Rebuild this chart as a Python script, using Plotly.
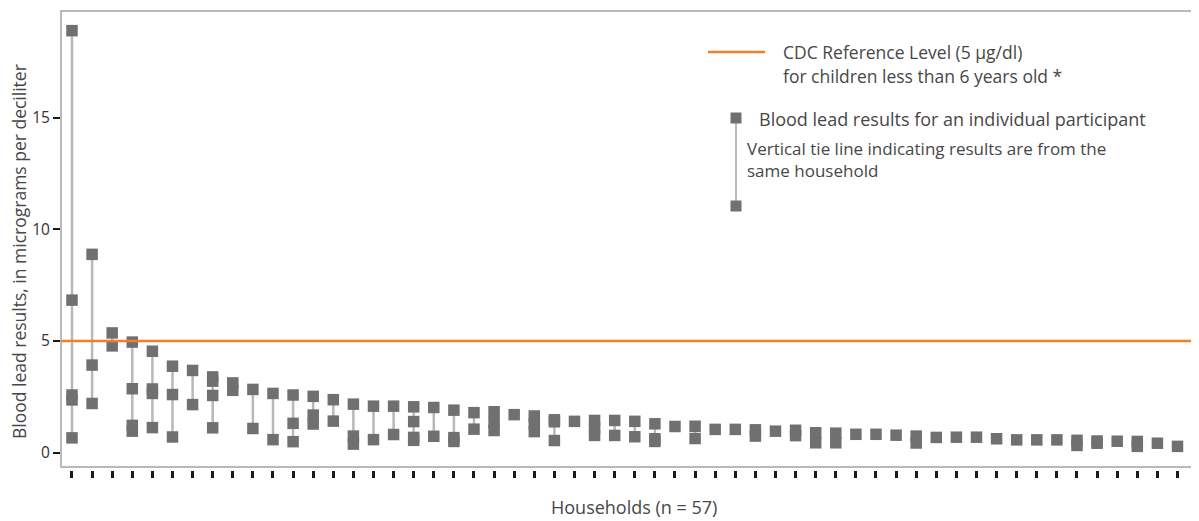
import plotly.graph_objects as go

# ---------------- data ----------------
households = list(range(1, 58))
blood_lead = [
    [18.9, 6.83, 2.58, 2.36, 0.66],
    [8.88, 3.92, 2.2],
    [5.36, 4.78],
    [4.95, 2.86, 1.22, 0.96],
    [4.54, 2.85, 2.65, 1.12],
    [3.87, 2.6, 0.70],
    [3.68, 2.15],
    [3.39, 3.2, 2.56, 1.11],
    [3.12, 2.79],
    [2.83, 1.08],
    [2.65, 0.58],
    [2.58, 1.31, 0.49],
    [2.52, 1.68, 1.28],
    [2.37, 1.41],
    [2.17, 0.74, 0.38],
    [2.08, 0.58],
    [2.08, 0.81],
    [2.05, 1.39, 0.68, 0.55],
    [2.02, 0.73],
    [1.9, 0.67, 0.5],
    [1.79, 1.05],
    [1.83, 1.35, 0.99],
    [1.70],
    [1.64, 1.3, 0.94],
    [1.47, 1.38, 0.54],
    [1.40],
    [1.44, 1.1, 0.77],
    [1.44, 0.77],
    [1.40, 0.71],
    [1.29, 0.62, 0.5],
    [1.17],
    [1.18, 0.63],
    [1.04],
    [1.04],
    [1.02, 0.74],
    [0.96],
    [1.0, 0.76],
    [0.89, 0.44],
    [0.87, 0.44],
    [0.82],
    [0.82],
    [0.78],
    [0.74, 0.43],
    [0.68],
    [0.69],
    [0.69],
    [0.62],
    [0.57],
    [0.57],
    [0.57],
    [0.55, 0.32],
    [0.52, 0.42],
    [0.51],
    [0.5, 0.28],
    [0.42],
    [0.28],
    [0.25],
]
CDC_LEVEL = 5
y_ticks = [0, 5, 10, 15]

# ---------------- styling ----------------
OFF = 8                      # page offset of the plot div (body margin)
SCREEN_W, SCREEN_H = 1199, 521
W, H = SCREEN_W - OFF, SCREEN_H - OFF
# plot area in screen pixels: left 61, top 11, right 1199, bottom 470
PL, PT, PR, PB = 61, 11, 1199, 470
ML, MT = PL - OFF, PT - OFF
MR = SCREEN_W - PR
MB = SCREEN_H - PB
SQUARE = "#707072"
TIE = "#b8b8b8"
ORANGE = "#f07f2a"
TEXT = "#474747"
FONT = "Open Sans"


def px(x):
    return (x - PL) / (PR - PL)


def py(y):
    return (PB - y) / (PB - PT)


# build traces
tie_x, tie_y, pt_x, pt_y = [], [], [], []
for h, vals in zip(households, blood_lead):
    if len(vals) > 1:
        tie_x += [h, h, None]
        tie_y += [max(vals), min(vals), None]
    pt_x += [h] * len(vals)
    pt_y += vals

fig = go.Figure()
fig.add_trace(go.Scatter(x=tie_x, y=tie_y, mode="lines",
                         line=dict(color=TIE, width=2.5), hoverinfo="skip"))
fig.add_trace(go.Scatter(x=pt_x, y=pt_y, mode="markers",
                         marker=dict(symbol="square", size=11.5, color=SQUARE,
                                     line=dict(width=0))))
fig.add_trace(go.Scatter(x=[households[0] - 2, households[-1] + 2],
                         y=[CDC_LEVEL, CDC_LEVEL], mode="lines",
                         line=dict(color=ORANGE, width=2.5), hoverinfo="skip"))

shapes = [
    # plot frame
    dict(type="rect", xref="paper", yref="paper", x0=0, x1=1.01,
         y0=py(467), y1=1, line=dict(color="#a3a3a3", width=1.5), layer="below"),
    # legend: orange line
    dict(type="line", xref="paper", yref="paper", x0=px(708), x1=px(765),
         y0=py(52), y1=py(52), line=dict(color=ORANGE, width=2.5)),
    # legend: tie line
    dict(type="line", xref="paper", yref="paper", x0=px(736), x1=px(736),
         y0=py(118), y1=py(206), line=dict(color=TIE, width=2)),
]
for cy in (118, 206):
    shapes.append(dict(type="rect", xref="paper", yref="paper",
                       x0=px(730.5), x1=px(741.5), y0=py(cy + 5.5), y1=py(cy - 5.5),
                       fillcolor=SQUARE, line=dict(width=0)))

annotations = [
    dict(text="CDC Reference Level (5 µg/dl)", x=px(781), y=py(52), xanchor="left",
         size=17.5),
    dict(text="for children less than 6 years old *", x=px(781), y=py(76), xanchor="left",
         size=17.5),
    dict(text="Blood lead results for an individual participant", x=px(757), y=py(119),
         xanchor="left", size=18),
    dict(text="Vertical tie line indicating results are from the", x=px(745), y=py(148),
         xanchor="left", size=17),
    dict(text="same household", x=px(745), y=py(170), xanchor="left", size=17),
    dict(text="Households (n = 57)", x=px(634), y=py(507), xanchor="center", size=18),
    dict(text="Blood lead results, in micrograms per deciliter", x=px(19), y=py(252),
         xanchor="center", textangle=-90, size=17.5),
]
ann = []
for a in annotations:
    size = a.pop("size", 17)
    ann.append(dict(xref="paper", yref="paper", yanchor="middle", showarrow=False,
                    font=dict(family=FONT, size=size, color=TEXT), **a))

fig.update_layout(
    width=W, height=H,
    margin=dict(l=ML, r=MR, t=MT, b=MB, pad=0),
    plot_bgcolor="white", paper_bgcolor="white",
    showlegend=False,
    shapes=shapes,
    annotations=ann,
    xaxis=dict(range=[households[0] - 0.547, households[0] - 0.547 + 1138 / 20.1],
               tickvals=households, ticks="outside", ticklen=7, tickwidth=2.5,
               tickcolor="#1a1a1a", showticklabels=False, showgrid=False,
               zeroline=False, showline=False, anchor="free", position=0),
    yaxis=dict(domain=[py(467), 1], range=[-0.645, 19.78], tickvals=y_ticks,
               ticks="outside", ticklen=7, tickwidth=1.5, tickcolor="#1a1a1a",
               showgrid=False, zeroline=False, showline=False,
               tickfont=dict(family=FONT, size=15.5, color="#333333")),
)

fig.write_html("out.html")
